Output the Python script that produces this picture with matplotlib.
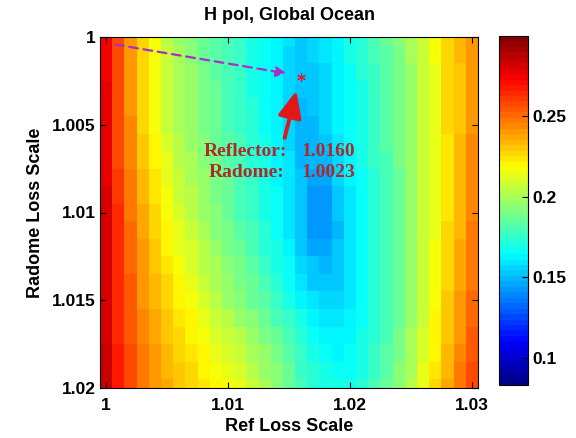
import numpy as np
import matplotlib
matplotlib.use("Agg")
import matplotlib.pyplot as plt
from matplotlib.colors import ListedColormap

# axes values
ref_scale = [1.000 + 0.001 * i for i in range(31)]
radome_scale = [1.000 + 0.001 * j for j in range(21)]

# cost values (x1000), one list per radome row
rows = [
    [276, 256, 240, 226, 216, 205, 198, 193, 188, 183, 179, 175, 171, 166, 162, 158, 154, 157, 160, 164, 168, 173, 178, 185, 192, 199, 207, 216, 226, 233, 242],
    [276, 256, 241, 226, 216, 206, 199, 194, 188, 184, 179, 175, 171, 166, 161, 157, 153, 155, 159, 163, 168, 172, 178, 184, 191, 199, 207, 216, 226, 233, 242],
    [276, 257, 241, 227, 216, 206, 199, 195, 189, 184, 180, 176, 171, 166, 161, 157, 152, 153, 157, 162, 167, 172, 177, 184, 191, 198, 206, 215, 226, 232, 242],
    [277, 257, 242, 227, 217, 207, 199, 195, 189, 185, 180, 176, 171, 166, 161, 156, 151, 152, 156, 161, 167, 171, 177, 183, 190, 198, 206, 215, 226, 232, 242],
    [277, 257, 242, 228, 217, 207, 200, 196, 190, 185, 181, 177, 172, 167, 162, 156, 150, 151, 155, 161, 166, 171, 176, 183, 190, 197, 206, 215, 226, 232, 242],
    [277, 257, 243, 228, 217, 207, 200, 196, 190, 186, 181, 177, 172, 167, 162, 156, 150, 150, 155, 161, 166, 170, 176, 182, 190, 197, 206, 215, 226, 232, 242],
    [278, 258, 244, 230, 219, 210, 202, 198, 192, 187, 182, 178, 173, 168, 163, 157, 150, 149, 153, 159, 165, 170, 175, 182, 189, 197, 206, 215, 225, 233, 243],
    [279, 259, 245, 231, 221, 212, 204, 200, 194, 189, 184, 179, 174, 168, 163, 158, 150, 148, 150, 157, 163, 169, 175, 181, 189, 197, 206, 215, 225, 233, 243],
    [279, 260, 246, 233, 223, 214, 206, 201, 195, 190, 185, 180, 175, 169, 164, 159, 151, 146, 147, 155, 161, 167, 174, 181, 188, 196, 206, 215, 225, 234, 244],
    [280, 261, 247, 234, 224, 216, 208, 203, 196, 191, 186, 181, 176, 170, 165, 159, 151, 144, 144, 153, 159, 166, 173, 180, 188, 196, 206, 215, 225, 234, 244],
    [281, 263, 249, 236, 226, 218, 210, 205, 198, 192, 187, 181, 176, 171, 166, 158, 151, 143, 143, 152, 160, 166, 172, 180, 188, 197, 206, 215, 225, 235, 245],
    [282, 264, 250, 237, 228, 220, 212, 207, 200, 194, 189, 183, 178, 172, 167, 160, 152, 144, 143, 150, 158, 165, 172, 180, 188, 197, 206, 215, 226, 235, 246],
    [282, 264, 251, 239, 230, 222, 214, 209, 202, 196, 191, 186, 180, 174, 168, 162, 153, 147, 146, 151, 158, 165, 172, 180, 188, 197, 206, 216, 226, 236, 247],
    [283, 265, 252, 240, 232, 224, 216, 211, 205, 199, 194, 189, 183, 177, 171, 165, 157, 151, 149, 153, 158, 165, 172, 179, 188, 197, 206, 216, 227, 237, 248],
    [283, 265, 253, 241, 233, 226, 219, 214, 207, 201, 196, 191, 185, 179, 174, 167, 160, 154, 152, 154, 159, 165, 172, 179, 188, 197, 207, 217, 228, 238, 249],
    [283, 265, 253, 242, 234, 227, 221, 216, 210, 204, 198, 193, 188, 183, 177, 170, 163, 158, 155, 156, 160, 165, 172, 179, 188, 197, 207, 218, 229, 239, 250],
    [283, 266, 254, 243, 236, 230, 224, 219, 213, 208, 203, 198, 193, 187, 181, 175, 168, 162, 159, 159, 161, 166, 173, 180, 188, 198, 208, 219, 229, 240, 251],
    [283, 266, 255, 245, 238, 232, 226, 222, 216, 211, 207, 202, 197, 191, 186, 179, 172, 166, 162, 161, 163, 168, 174, 181, 189, 199, 209, 221, 231, 242, 253],
    [284, 267, 256, 246, 239, 233, 228, 224, 219, 215, 210, 206, 201, 195, 190, 183, 175, 170, 165, 163, 165, 170, 175, 183, 190, 200, 211, 222, 233, 244, 255],
    [284, 268, 257, 247, 240, 235, 229, 226, 221, 217, 213, 209, 204, 198, 192, 185, 177, 172, 168, 166, 167, 171, 176, 184, 192, 201, 212, 224, 234, 246, 257],
    [284, 269, 257, 247, 241, 236, 231, 228, 223, 219, 216, 212, 207, 200, 194, 186, 179, 174, 170, 168, 169, 173, 178, 185, 193, 202, 214, 226, 236, 248, 259],
]
cost = np.array(rows) / 1000.0

best_ref = 1.0160
best_radome = 1.0023

x_ticks = [1.0, 1.01, 1.02, 1.03]
x_labels = ["1", "1.01", "1.02", "1.03"]
y_ticks = [1.0, 1.005, 1.01, 1.015, 1.02]
y_labels = ["1", "1.005", "1.01", "1.015", "1.02"]
cb_ticks = [0.1, 0.15, 0.2, 0.25]
cb_labels = ["0.1", "0.15", "0.2", "0.25"]

# matlab style jet with 64 steps
t = (np.arange(64) + 0.5) / 64
jet64 = ListedColormap(np.clip(np.stack([1.5 - np.abs(4 * t - 3),
                                         1.5 - np.abs(4 * t - 2),
                                         1.5 - np.abs(4 * t - 1)], axis=1), 0, 1))

plt.rcParams["font.family"] = ["Liberation Sans", "DejaVu Sans"]
plt.rcParams["font.weight"] = "bold"

fig = plt.figure(figsize=(5.76, 4.38), dpi=100)
ax = fig.add_axes([100 / 576, (438 - 388) / 438, 378 / 576, 351 / 438])

mesh = ax.pcolormesh(ref_scale, radome_scale, cost, shading="nearest",
                     cmap=jet64, vmin=0.083, vmax=0.300)
ax.set_xlim(0.9995, 1.0305)
ax.set_ylim(1.02, 1.0)

ax.set_xticks(x_ticks)
ax.set_xticklabels(x_labels)
ax.set_yticks(y_ticks)
ax.set_yticklabels(y_labels)
ax.tick_params(direction="in", top=True, right=True, length=4, labelsize=12.5)
ax.tick_params(axis="x", pad=7)
ax.tick_params(axis="y", pad=3)

ax.set_xlabel("Ref Loss Scale", fontsize=13, fontweight="bold", labelpad=4)
ax.set_ylabel("Radome Loss Scale", fontsize=13, fontweight="bold", labelpad=6)
ax.set_title("H pol, Global Ocean", fontsize=13, fontweight="bold", pad=12)

# dashed arrow from the start point to the minimum
ax.annotate("", xy=(1.0150, 1.0021), xytext=(1.0005, 1.0004),
            arrowprops=dict(arrowstyle="-|>", linestyle=(0, (4, 2.5)), lw=1.6,
                            color="#A830C8", mutation_scale=15))
ax.plot(best_ref, best_radome, marker=(6, 2, 0), color="#E01818", markersize=6,
        markeredgewidth=0.8, linestyle="none")

# red arrow pointing to the star
ax.annotate("", xy=(1.01566, 1.00291), xytext=(1.01459, 1.00590),
            arrowprops=dict(arrowstyle="-|>,head_width=0.42,head_length=0.95",
                            lw=2.8, color="#E01818", mutation_scale=17))

txt_style = dict(fontsize=14, fontweight="bold", color="#B02828",
                 family=["Liberation Serif", "DejaVu Serif"], va="center")
ax.text(1.0080, 1.00655, "Reflector:", **txt_style)
ax.text(1.0160, 1.00655, "%.4f" % best_ref, **txt_style)
ax.text(1.0084, 1.0077, "Radome:", **txt_style)
ax.text(1.0160, 1.0077, "%.4f" % best_radome, **txt_style)

cax = fig.add_axes([499 / 576, (438 - 385) / 438, 29 / 576, 349 / 438])
cb = fig.colorbar(mesh, cax=cax)
cb.set_ticks(cb_ticks)
cb.set_ticklabels(cb_labels)
cb.ax.tick_params(direction="in", length=4, labelsize=12.5, pad=3)
cb.outline.set_linewidth(0.8)

fig.savefig("out.png", dpi=100)
